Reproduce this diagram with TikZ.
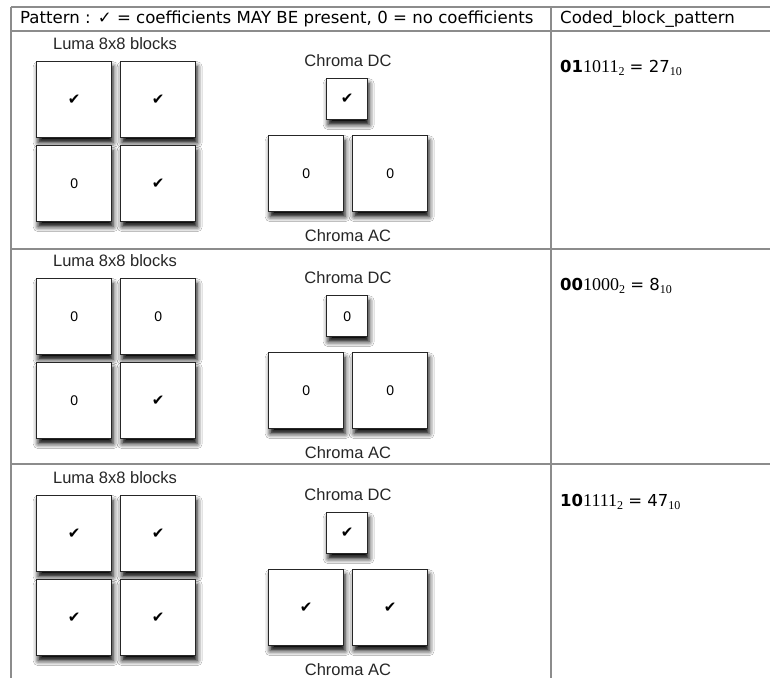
\documentclass[tikz,border=0pt]{standalone}
\usepackage{fontspec}
\setmainfont{DejaVu Sans}
\newfontfamily\labelfont{Liberation Sans}
\newfontfamily\numfont{Liberation Serif}
\newfontfamily\tickfont{DejaVu Sans}
\usetikzlibrary{shadows.blur}
\definecolor{rulegray}{gray}{0.55}
\newcommand\cbpcheck{{\tickfont\fontsize{15}{15}\selectfont ✔}}
\newcommand\cbpcode[3]{%
  {\fontsize{16.5}{16.5}\selectfont\bfseries #1}%
  {\numfont\fontsize{18}{18}\selectfont #2\raisebox{-2.5pt}{\fontsize{12}{12}\selectfont 2}}%
  {\fontsize{16.5}{16.5}\selectfont\ = #3}%
  {\numfont\raisebox{-2.5pt}{\fontsize{12}{12}\selectfont 10}}}
\begin{document}
\begin{tikzpicture}[x=1pt,y=-1pt,
  rule/.style={draw=rulegray, line width=1.4pt},
  blockbase/.style={draw=black!85, line width=1.4pt, fill=white,
    blur shadow={shadow xshift=1.5pt, shadow yshift=-5pt,
      shadow blur radius=5pt, shadow opacity=100},
    inner sep=0pt, anchor=north west,
    font=\labelfont\fontsize{14}{14}\selectfont},
  bigblock/.style={blockbase, minimum width=75pt, minimum height=76pt},
  dcblock/.style={blockbase, minimum width=41pt, minimum height=41pt},
  caption/.style={font=\labelfont\fontsize{16.5}{16.5}\selectfont, text=black!85, inner sep=0pt},
  headtext/.style={font=\fontsize{16.6}{16.6}\selectfont, anchor=west, inner sep=0pt},
  codetext/.style={anchor=west, inner sep=0pt}]
\useasboundingbox (0,0) rectangle (770,678);
\fill[white] (0,0) rectangle (770,678);

% table rules
\draw[rule, line width=2.2pt] (11,7) -- (770,7);
\draw[rule] (11,31) -- (770,31);
\draw[rule] (11,249) -- (770,249);
\draw[rule] (11,464) -- (770,464);
\draw[rule] (11,7) -- (11,678);
\draw[rule] (551,7) -- (551,678);

% header
\node[headtext] (hdrL) at (20,19) {Pattern : ✓ = coefficients MAY BE present, 0 = no coefficients};
\node[headtext] (hdrR) at (560,19) {Coded\_block\_pattern};

% one row of blocks per pattern
\foreach \r/\dy/\la/\lb/\lc/\ld/\dc/\aca/\acb in {
  1/0/\cbpcheck/\cbpcheck/0/\cbpcheck/\cbpcheck/0/0,
  2/217/0/0/0/\cbpcheck/0/0/0,
  3/434/\cbpcheck/\cbpcheck/\cbpcheck/\cbpcheck/\cbpcheck/\cbpcheck/\cbpcheck}{
  \begin{scope}[shift={(0,\dy)}]
    \node[caption] (luma\r) at (115,44) {Luma 8x8 blocks};
    \node[bigblock] (Y\r a) at (36,61) {\la};
    \node[bigblock] (Y\r b) at (120,61) {\lb};
    \node[bigblock] (Y\r c) at (36,145) {\lc};
    \node[bigblock] (Y\r d) at (120,145) {\ld};
    \node[caption] (dclab\r) at (348,61) {Chroma DC};
    \node[dcblock] (DC\r) at (326,78) {\dc};
    \node[bigblock] (AC\r a) at (268,135) {\aca};
    \node[bigblock] (AC\r b) at (352,135) {\acb};
    \node[caption] (aclab\r) at (348,236) {Chroma AC};
  \end{scope}
}

% coded block pattern values
\node[codetext] (code1) at (560,68) {\cbpcode{01}{1011}{27}};
\node[codetext] (code2) at (560,286) {\cbpcode{00}{1000}{8}};
\node[codetext] (code3) at (560,502) {\cbpcode{10}{1111}{47}};
\end{tikzpicture}
\end{document}
